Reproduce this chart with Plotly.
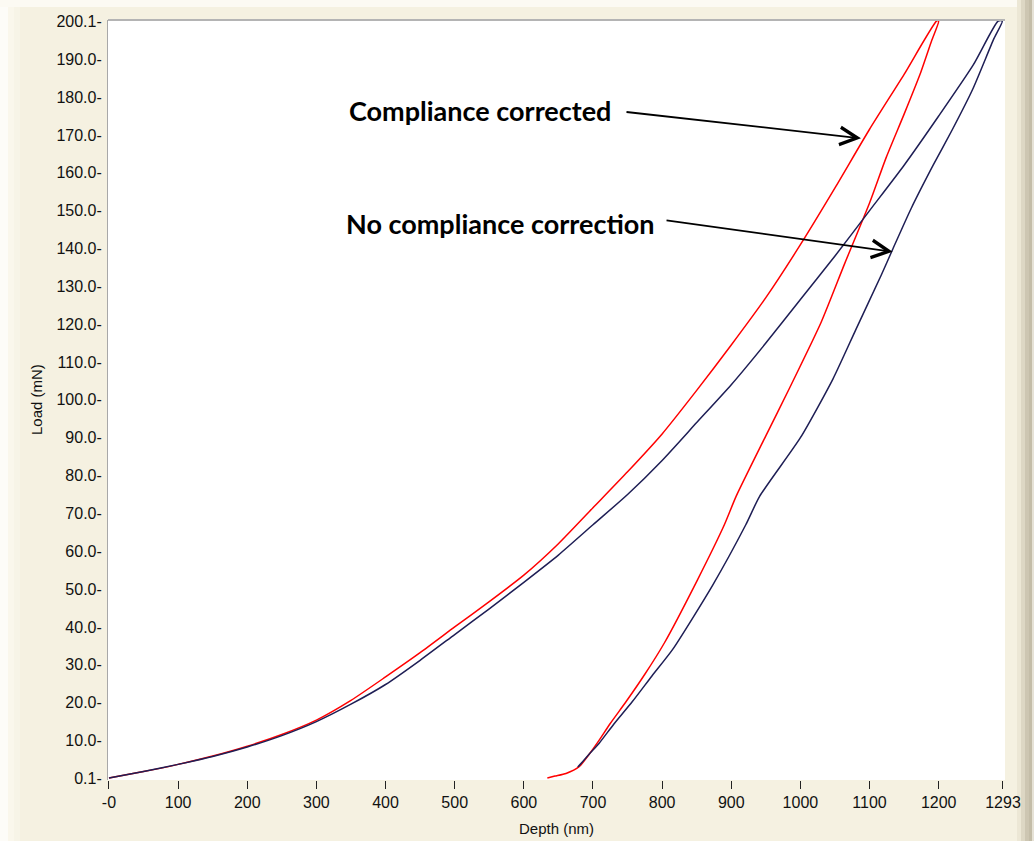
import plotly.graph_objects as go

# ---------------- data ----------------
red_load_depth = [0, 50, 100, 150, 200, 250, 300, 350, 400, 450, 500, 550, 600, 650,
                  700, 750, 800, 850, 900, 950, 1000, 1050, 1100, 1150, 1197]
red_load_load = [0.1, 1.8, 3.7, 5.9, 8.5, 11.6, 15.4, 20.6, 26.8, 33.2, 40.0, 46.7, 53.7, 62.0,
                 71.5, 81.0, 91.0, 102.5, 114.5, 127.0, 141.0, 156.0, 171.5, 186.0, 200.1]

red_unload_depth = [1200, 1190, 1174, 1150, 1124, 1100, 1064, 1030, 984, 950, 907, 890,
                    851, 803, 775, 748, 725, 709, 695, 680, 661, 645, 634]
red_unload_load = [200.1, 195.0, 186.5, 175.5, 164.0, 152.0, 136.0, 120.5, 103.0, 90.5, 74.5, 67.0,
                   52.4, 35.7, 27.5, 20.3, 14.5, 10.1, 6.5, 3.1, 1.3, 0.6, 0.1]

blue_load_depth = [0, 50, 100, 150, 200, 250, 300, 350, 400, 450, 500, 550, 600, 650,
                   700, 750, 800, 850, 900, 950, 1000, 1050, 1100, 1150, 1200, 1250, 1286]
blue_load_load = [0.1, 1.8, 3.7, 5.8, 8.3, 11.3, 15.0, 19.6, 24.8, 31.2, 38.0, 44.8, 51.8, 59.0,
                  67.0, 75.0, 84.0, 94.0, 104.0, 115.0, 126.5, 138.0, 150.0, 162.0, 175.0, 188.5, 200.1]

blue_unload_depth = [1292, 1280, 1249, 1220, 1192, 1160, 1134, 1117, 1080, 1047, 1000, 941,
                     921, 873, 815, 785, 757, 730, 709, 695, 685, 678]
blue_unload_load = [200.1, 195.5, 182.0, 171.5, 162.0, 150.5, 140.0, 133.0, 118.5, 105.5, 90.0, 74.5,
                    67.0, 51.0, 34.0, 27.0, 20.3, 14.3, 9.3, 6.5, 4.4, 3.0]

x_tick_vals = [0, 100, 200, 300, 400, 500, 600, 700, 800, 900, 1000, 1100, 1200, 1293]
x_tick_text = ["-0", "100", "200", "300", "400", "500", "600", "700", "800", "900",
               "1000", "1100", "1200", "1293"]
y_tick_vals = [0.1] + [float(v) for v in range(10, 200, 10)] + [200.1]
y_tick_text = ["0.1"] + ["%.1f" % v for v in range(10, 200, 10)] + ["200.1"]

# ---------------- layout helpers ----------------
W, H = 1034, 841
L, R, T, B = 108, 1005, 20, 780   # plot area in pixels


def PX(px):
    return (px - L) / (R - L)


def PY(py):
    return (B - py) / (B - T)


BEIGE = "#F5F1E1"
FONT = "Liberation Sans"

fig = go.Figure()

red = "#FF0000"
navy = "#1E1E55"

fig.add_trace(go.Scatter(x=red_load_depth + red_unload_depth,
                         y=red_load_load + red_unload_load,
                         mode="lines", line=dict(color=red, width=1.5, shape="spline", smoothing=0.6),
                         showlegend=False, hoverinfo="skip"))
fig.add_trace(go.Scatter(x=blue_load_depth + blue_unload_depth,
                         y=blue_load_load + blue_unload_load,
                         mode="lines", line=dict(color=navy, width=1.5, shape="spline", smoothing=0.6),
                         showlegend=False, hoverinfo="skip"))

shapes = []


def rect(x0, y0, x1, y1, color):
    shapes.append(dict(type="rect", xref="paper", yref="paper",
                       x0=PX(x0), x1=PX(x1), y0=PY(y1), y1=PY(y0),
                       fillcolor=color, line=dict(width=0), layer="below"))


# window-frame look
rect(0, 0, 8, H, "#FDFCF8")
rect(8, 0, 14, H, "#FAF7EC")
rect(14, 0, 20, H, "#F7F4E7")
rect(0, 0, W, 7, "#FCFAF3")
rect(1017, 0, 1021, H, "#ECE7D5")
rect(1021, 0, 1025, H, "#DDD7C4")
rect(1025, 0, 1029, H, "#CDC6B2")
rect(1029, 0, 1032, H, "#C4BDA8")
rect(1032, 0, W, H, "#E6E2D6")
# top border of plot area
shapes.append(dict(type="line", xref="paper", yref="paper", x0=0, x1=1, y0=1, y1=1,
                   line=dict(color="#B4B4B4", width=2)))

annotations = [
    dict(text="Load (mN)", xref="paper", yref="paper", x=PX(36), y=PY(400),
         textangle=-90, showarrow=False, font=dict(family=FONT, size=15, color="#111111"),
         xanchor="center", yanchor="middle"),
    dict(text="Depth (nm)", xref="paper", yref="paper", x=PX(556), y=PY(828),
         showarrow=False, font=dict(family=FONT, size=15, color="#111111"),
         xanchor="center", yanchor="middle"),
    dict(text="<b>Compliance corrected</b>", xref="paper", yref="paper", x=PX(480), y=PY(111),
         showarrow=False, font=dict(family="Lato", size=27, color="#000000"),
         xanchor="center", yanchor="middle"),
    dict(text="<b>No compliance correction</b>", xref="paper", yref="paper", x=PX(500), y=PY(224),
         showarrow=False, font=dict(family="Lato", size=27, color="#000000"),
         xanchor="center", yanchor="middle"),
    dict(text="", x=1087.6, y=169.1, ax=746.3, ay=176.1, xref="x", yref="y",
         axref="x", ayref="y", showarrow=True, arrowhead=5, arrowsize=1.9,
         arrowwidth=1.8, arrowcolor="#000000"),
    dict(text="", x=1133.4, y=139.1, ax=804.2, ay=147.5, xref="x", yref="y",
         axref="x", ayref="y", showarrow=True, arrowhead=5, arrowsize=1.9,
         arrowwidth=1.8, arrowcolor="#000000"),
]

fig.update_layout(
    width=W, height=H,
    margin=dict(l=L, r=W - R, t=T, b=H - B, pad=0),
    paper_bgcolor=BEIGE, plot_bgcolor="#FFFFFF",
    shapes=shapes, annotations=annotations,
    font=dict(family=FONT, size=16, color="#111111"),
    xaxis=dict(range=[-1.4, 1295.9], tickvals=x_tick_vals, ticktext=x_tick_text,
               ticks="outside", ticklen=8, tickwidth=1, tickcolor="#222222",
               showgrid=False, zeroline=False, showline=False,
               tickfont=dict(family=FONT, size=16, color="#111111")),
    yaxis=dict(range=[-0.43, 200.36], tickvals=y_tick_vals,
               ticktext=[t + "-" for t in y_tick_text],
               ticks="", showgrid=False, zeroline=False,
               showline=True, linecolor="#A8A8A8", linewidth=1,
               ticklabelstandoff=2,
               tickfont=dict(family=FONT, size=16, color="#111111")),
)

fig.write_html("out.html")
